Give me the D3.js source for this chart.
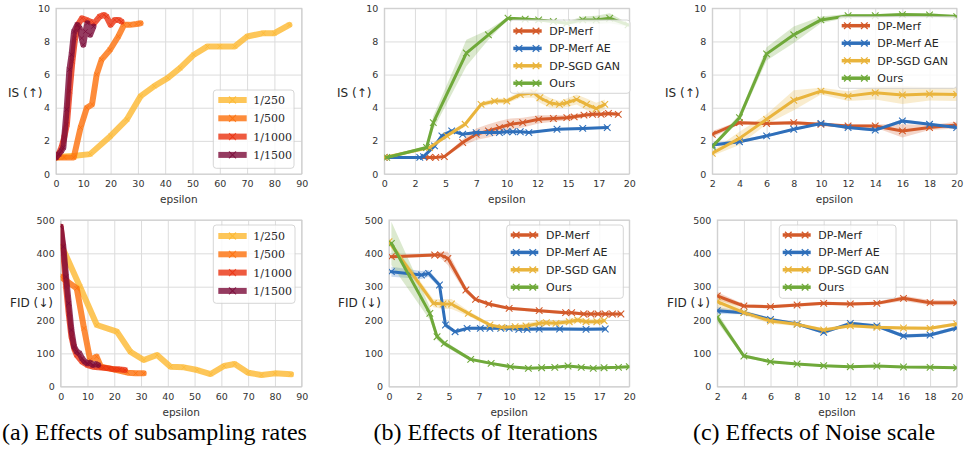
<!DOCTYPE html>
<html>
<head>
<meta charset="utf-8">
<script src="https://cdn.jsdelivr.net/npm/d3@7"></script>
<style>
  body { margin: 0; background: #fff; }
  svg { display: block; }
</style>
</head>
<body>
<svg id="fig" width="964" height="453"></svg>
<script>
// ---- data ----
var rateNames = ["1/250", "1/500", "1/1000", "1/1500"];
var methodNames = ["DP-Merf", "DP-Merf AE", "DP-SGD GAN", "Ours"];

// (a) subsampling rates, IS
var aIsX = [
  [0, 3, 7, 12.5, 20, 26, 31, 36, 41, 45.5, 50.5, 55.5, 60, 65.5, 70, 76, 80, 85.5],
  [0.5, 3, 6.5, 9, 11.3, 13.2, 14.9, 16.7, 19.8, 22.8, 24.9, 27, 29.5, 31],
  [0, 1, 2, 3, 4, 5, 6, 7, 8, 9.5, 11, 12.5, 14, 16, 17.5, 18.5, 20, 21.5, 23, 24],
  [0, 1, 2, 2.7, 3.9, 4.9, 5.7, 6.6, 7.8, 8.7, 9.4, 10, 10.8, 11.5, 12.5, 13.7]
];
var aIsY = [
  [1.0, 1.05, 1.1, 1.2, 2.3, 3.3, 4.7, 5.3, 5.8, 6.4, 7.2, 7.7, 7.7, 7.7, 8.3, 8.5, 8.5, 9.0],
  [1.0, 1.0, 1.0, 2.8, 4.0, 4.2, 6.0, 6.9, 7.5, 8.3, 9.0, 9.0, 9.05, 9.1],
  [1.0, 1.2, 1.6, 2.2, 3.0, 5.0, 6.8, 8.2, 9.0, 9.4, 9.3, 9.2, 9.1, 9.5, 9.6, 9.5, 9.0, 9.3, 9.3, 9.2],
  [1.0, 1.2, 1.4, 1.6, 3.9, 6.3, 7.2, 8.6, 9.0, 8.8, 8.2, 7.8, 8.6, 9.1, 8.4, 8.9]
];
// (a) subsampling rates, FID
var aFidX = [
  [0.5, 7.2, 13.5, 21, 26, 31, 36, 41, 46, 51, 56, 61, 65, 70, 75, 80, 86],
  [0, 6, 8.7, 11, 13.4, 15, 18, 21, 25, 28, 31],
  [0, 1, 2, 3, 4, 5, 6, 8, 10, 12, 14, 16, 18, 20, 22, 24],
  [0, 1, 2, 3, 4, 5, 6, 7, 8, 9, 10, 11, 12, 13, 14]
];
var aFidY = [
  [420, 300, 185, 165, 105, 80, 95, 60, 58, 50, 38, 62, 68, 42, 35, 40, 37],
  [330, 295, 175, 80, 90, 60, 55, 50, 42, 40, 40],
  [480, 400, 300, 220, 150, 115, 95, 75, 65, 60, 58, 57, 55, 52, 52, 50],
  [480, 420, 330, 250, 170, 120, 105, 100, 85, 75, 70, 72, 65, 68, 65]
];

// (b) iterations, IS
var bIsX = [
  [0, 3.7, 4.2, 4.9, 6.4, 7.5, 8.5, 9.4, 10.3, 11.3, 12.6, 13.8, 14.9, 15.5, 16.3, 17.0, 17.7, 18.3, 19.1],
  [0, 2.9, 3.2, 4.1, 4.7, 5.5, 6.4, 7.5, 8.6, 9.4, 10.0, 10.5, 11.1, 11.8, 14.1, 16.2, 18.2],
  [0, 3.7, 5.1, 6.6, 7.9, 9.0, 10.0, 11.1, 12.2, 12.7, 13.5, 14.3, 14.9, 15.7, 16.5, 17.3, 18.0],
  [0.2, 3.45, 4.0, 6.7, 8.5, 10.1, 11.5, 12.6, 13.8, 14.9, 16.2, 17.3, 18.4, 19.9]
];
var bIsY = [
  [1.0, 1.0, 1.0, 1.05, 1.9, 2.4, 2.6, 2.8, 3.0, 3.1, 3.3, 3.35, 3.4, 3.45, 3.55, 3.6, 3.6, 3.65, 3.6],
  [1.0, 1.0, 1.05, 1.7, 2.3, 2.6, 2.4, 2.5, 2.5, 2.5, 2.55, 2.55, 2.55, 2.5, 2.7, 2.75, 2.8],
  [1.0, 1.6, 2.3, 3.0, 4.2, 4.4, 4.4, 4.8, 4.9, 4.6, 4.3, 4.2, 4.3, 4.5, 4.2, 3.95, 4.2],
  [1.0, 1.6, 3.1, 7.3, 8.4, 9.4, 9.35, 9.3, 9.2, 9.1, 9.3, 9.3, 9.4, 9.0]
];
var bIsBand = [
  [0.02, 0.02, 0.03, 0.05, 0.2, 0.35, 0.4, 0.4, 0.35, 0.3, 0.25, 0.2, 0.15, 0.15, 0.12, 0.12, 0.12, 0.12, 0.1],
  [0.02, 0.05, 0.05, 0.15, 0.15, 0.1, 0.08, 0.06, 0.06, 0.06, 0.06, 0.06, 0.06, 0.06, 0.06, 0.06, 0.06],
  [0.02, 0.05, 0.1, 0.15, 0.15, 0.15, 0.15, 0.2, 0.3, 0.3, 0.3, 0.2, 0.25, 0.3, 0.35, 0.35, 0.3],
  [0.05, 0.1, 0.4, 0.8, 0.3, 0.08, 0.08, 0.08, 0.1, 0.1, 0.2, 0.25, 0.3, 0.1]
];
// (b) iterations, FID
var bFidX = [
  [0.2, 3.8, 4.3, 4.9, 6.4, 7.2, 8.3, 10, 12.5, 14.7, 15.2, 16.2, 16.8, 17.4, 18.0, 18.6, 19.3],
  [0.2, 2.7, 3.3, 4.2, 4.7, 5.5, 6.5, 7.6, 8.4, 9.3, 10, 10.8, 11.5, 12.5, 14.2, 16.4, 18.0],
  [0, 3.7, 4.5, 5.2, 6.6, 8.4, 9.4, 10.5, 11.4, 12.5, 13.1, 13.9, 15.0, 15.7, 16.4, 17.3, 17.9],
  [0.2, 3.4, 4.0, 4.6, 6.8, 8.5, 10.1, 11.6, 12.7, 13.8, 14.9, 16.0, 17.0, 17.9, 19.1, 20]
];
var bFidY = [
  [390, 395, 395, 385, 290, 262, 248, 235, 228, 222, 222, 218, 218, 218, 218, 218, 218],
  [345, 335, 340, 305, 185, 165, 175, 175, 175, 175, 175, 172, 172, 173, 173, 172, 173],
  [435, 250, 248, 248, 220, 185, 178, 180, 182, 190, 192, 190, 195, 200, 195, 195, 198],
  [430, 220, 150, 130, 82, 70, 60, 55, 57, 58, 62, 58, 55, 57, 58, 60]
];
var bFidBand = [
  [5, 5, 10, 20, 10, 5, 5, 5, 5, 5, 5, 5, 5, 5, 5, 5, 5],
  [15, 12, 10, 8, 8, 5, 5, 5, 5, 5, 5, 5, 5, 5, 5, 5, 5],
  [10, 12, 15, 15, 8, 5, 5, 5, 8, 8, 8, 8, 8, 8, 8, 8, 8],
  [65, 20, 10, 8, 5, 4, 3, 3, 3, 3, 3, 3, 3, 3, 3, 3]
];

// (c) noise scale
var noiseX = [2, 4, 6, 8, 10, 12, 14, 16, 18, 20];
var cIsY = [
  [2.4, 3.1, 3.05, 3.1, 3.0, 2.9, 2.9, 2.6, 2.8, 2.95],
  [1.75, 1.95, 2.3, 2.7, 3.05, 2.8, 2.65, 3.2, 3.0, 2.8],
  [1.25, 2.15, 3.3, 4.45, 5.0, 4.7, 4.9, 4.77, 4.83, 4.8],
  [1.65, 3.4, 7.25, 8.4, 9.3, 9.55, 9.55, 9.62, 9.6, 9.5]
];
var cIsBand = [
  [0.2, 0.1, 0.1, 0.1, 0.1, 0.1, 0.1, 0.4, 0.15, 0.2],
  [0.1, 0.1, 0.08, 0.08, 0.08, 0.08, 0.08, 0.1, 0.08, 0.08],
  [0.15, 0.4, 0.3, 0.6, 0.2, 0.3, 0.4, 0.55, 0.4, 0.4],
  [0.1, 0.2, 0.4, 0.5, 0.2, 0.1, 0.1, 0.1, 0.1, 0.1]
];
var cFidY = [
  [272, 242, 240, 245, 250, 248, 250, 265, 252, 252],
  [228, 222, 202, 188, 163, 190, 182, 152, 155, 176],
  [255, 222, 197, 187, 170, 183, 178, 176, 175, 188],
  [208, 92, 75, 68, 63, 60, 62, 59, 58, 57]
];
var cFidBand = [
  [12, 5, 5, 5, 5, 5, 5, 8, 8, 8],
  [10, 5, 5, 5, 5, 5, 5, 5, 5, 5],
  [25, 8, 8, 5, 5, 5, 5, 5, 5, 5],
  [15, 5, 3, 3, 3, 3, 3, 3, 3, 3]
];

// ---- styles ----
var rateColors = ["#fdb830", "#fd6f0a", "#ea310f", "#7a0a38"];
var methodColors = ["#d35a2a", "#2f6fba", "#e9b43c", "#6fa93a"];

var svg = d3.select("#fig");
var isTicks = d3.range(0, 11, 2);
var fidTicks = d3.range(0, 501, 100);

function crossPath(s) {
  return "M" + (-s) + "," + (-s) + "L" + s + "," + s + "M" + (-s) + "," + s + "L" + s + "," + (-s);
}

var clipCount = 0;
function drawPanel(p) {
  var g = svg.append("g");
  var x = d3.scaleLinear().domain(p.xDomain).range([p.left, p.right]);
  var y = d3.scaleLinear().domain(p.yDomain).range([p.bottom, p.top]);
  var w = p.right - p.left, h = p.bottom - p.top;

  g.append("rect").attr("x", p.left).attr("y", p.top).attr("width", w).attr("height", h)
    .attr("fill", "#fff");

  var xa = g.append("g").attr("transform", "translate(0," + p.bottom + ")")
    .call(d3.axisBottom(x).tickValues(p.xTicks).tickSize(-h).tickPadding(6.5)
      .tickFormat(p.xFormat || d3.format("d")));
  var ya = g.append("g").attr("transform", "translate(" + p.left + ",0)")
    .call(d3.axisLeft(y).tickValues(p.yTicks).tickSize(-w).tickPadding(6)
      .tickFormat(d3.format("d")));
  [xa, ya].forEach(function (a) {
    a.select(".domain").remove();
    a.selectAll(".tick line").attr("stroke", "#dcdcdc").attr("stroke-width", 1);
    a.selectAll(".tick text").attr("fill", "#333")
      .style("font-family", "DejaVu Sans").style("font-size", "9.5px");
  });

  g.append("rect").attr("x", p.left).attr("y", p.top).attr("width", w).attr("height", h)
    .attr("fill", "none").attr("stroke", "#cccccc").attr("stroke-width", 1);

  var cid = "clip" + (clipCount++);
  g.append("clipPath").attr("id", cid).append("rect")
    .attr("x", p.left).attr("y", p.top).attr("width", w).attr("height", h);
  var plot = g.append("g").attr("clip-path", "url(#" + cid + ")");

  var series = p.names.map(function (n, i) {
    return {
      name: n, color: p.colors[i],
      pts: p.xs[i].map(function (d, j) {
        return { x: d, y: p.ys[i][j], b: p.bands ? p.bands[i][j] : 0 };
      })
    };
  });

  if (p.bands) {
    series.forEach(function (s) {
      plot.append("path").datum(s.pts)
        .attr("d", d3.area().x(function (d) { return x(d.x); })
          .y0(function (d) { return y(d.y - d.b); })
          .y1(function (d) { return y(d.y + d.b); }))
        .attr("fill", s.color).attr("fill-opacity", 0.25);
    });
  }

  var line = d3.line().x(function (d) { return x(d.x); }).y(function (d) { return y(d.y); });
  series.forEach(function (s) {
    plot.append("path").datum(s.pts).attr("d", line)
      .attr("fill", "none").attr("stroke", s.color)
      .attr("stroke-width", p.lineWidth).attr("stroke-opacity", p.lineOpacity)
      .attr("stroke-linejoin", "round").attr("stroke-linecap", "round");
    plot.selectAll(null).data(s.pts).enter().append("path")
      .attr("transform", function (d) { return "translate(" + x(d.x) + "," + y(d.y) + ")"; })
      .attr("d", crossPath(p.markerSize))
      .attr("stroke", s.color).attr("stroke-width", p.markerWidth)
      .attr("stroke-opacity", p.lineOpacity).attr("fill", "none");
  });

  // legend
  var L = p.legend;
  var lg = g.append("g");
  lg.append("rect").attr("x", L.x).attr("y", L.y).attr("width", L.w).attr("height", L.h)
    .attr("rx", 3).attr("fill", "#fff").attr("fill-opacity", 0.8)
    .attr("stroke", "#cccccc").attr("stroke-width", 0.8);
  series.forEach(function (s, i) {
    var ry = L.row0 + i * L.step;
    lg.append("line").attr("x1", L.lx0).attr("x2", L.lx1).attr("y1", ry).attr("y2", ry)
      .attr("stroke", s.color).attr("stroke-width", p.legendLineWidth)
      .attr("stroke-opacity", p.lineOpacity);
    L.marks.forEach(function (f) {
      lg.append("path")
        .attr("transform", "translate(" + (L.lx0 + f * (L.lx1 - L.lx0)) + "," + ry + ")")
        .attr("d", crossPath(p.legendMarkerSize))
        .attr("stroke", s.color).attr("stroke-width", p.markerWidth + 0.2)
        .attr("stroke-opacity", p.lineOpacity).attr("fill", "none");
    });
    lg.append("text").attr("x", L.tx).attr("y", ry).attr("dy", "0.36em")
      .attr("fill", "#262626").style("font-family", p.legendFont).style("font-size", "11px")
      .text(s.name);
  });

  // axis labels
  g.append("text").attr("x", (p.left + p.right) / 2).attr("y", p.bottom + 29)
    .attr("text-anchor", "middle").attr("fill", "#333")
    .style("font-family", "DejaVu Sans").style("font-size", "10.5px").text("epsilon");
  g.append("text").attr("x", p.ylabelX).attr("y", p.ylabelY).attr("dy", "0.35em")
    .attr("fill", "#262626")
    .style("font-family", "DejaVu Sans").style("font-size", "12px").text(p.ylabel);
}

var rateStyle = {
  names: rateNames, colors: rateColors, lineWidth: 6, lineOpacity: 0.8,
  markerSize: 2.2, markerWidth: 0.9, legendLineWidth: 6, legendMarkerSize: 3.5,
  legendFont: "DejaVu Serif"
};
var methodStyle = {
  names: methodNames, colors: methodColors, lineWidth: 3, lineOpacity: 1,
  markerSize: 3.3, markerWidth: 1.1, legendLineWidth: 3.5, legendMarkerSize: 3.3,
  legendFont: "DejaVu Sans"
};
var iterTicks = d3.range(0, 20.1, 2.5);
var iterFormat = function (d) { return String(Math.floor(d)); };

var panels = [
  Object.assign({}, rateStyle, {
    left: 56, right: 301.7, top: 8.3, bottom: 174,
    xDomain: [0, 90], xTicks: d3.range(0, 91, 10), yDomain: [0, 10], yTicks: isTicks,
    xs: aIsX, ys: aIsY, ylabel: "IS (\u2191)", ylabelX: 8, ylabelY: 93,
    legend: { x: 213.3, y: 90, w: 80.7, h: 78.3, row0: 100, step: 18.3, lx0: 218.3, lx1: 246.7, tx: 253.3, marks: [0.5] }
  }),
  Object.assign({}, rateStyle, {
    left: 60.7, right: 301.7, top: 220, bottom: 386.7,
    xDomain: [0, 90], xTicks: d3.range(0, 91, 10), yDomain: [0, 500], yTicks: fidTicks,
    xs: aFidX, ys: aFidY, ylabel: "FID (\u2193)", ylabelX: 10, ylabelY: 303,
    legend: { x: 213.3, y: 225, w: 81.7, h: 78.3, row0: 236, step: 18.3, lx0: 218.3, lx1: 246.7, tx: 253.3, marks: [0.5] }
  }),
  Object.assign({}, methodStyle, {
    left: 384.3, right: 629.3, top: 8.3, bottom: 174,
    xDomain: [0, 20], xTicks: iterTicks, xFormat: iterFormat, yDomain: [0, 10], yTicks: isTicks,
    xs: bIsX, ys: bIsY, bands: bIsBand, ylabel: "IS (\u2191)", ylabelX: 337, ylabelY: 93,
    legend: { x: 510, y: 20, w: 120, h: 73.3, row0: 31, step: 17.4, lx0: 513.3, lx1: 541.7, tx: 549.3, marks: [0.2, 0.8] }
  }),
  Object.assign({}, methodStyle, {
    left: 389, right: 629.3, top: 220, bottom: 386.7,
    xDomain: [0, 20], xTicks: iterTicks, xFormat: iterFormat, yDomain: [0, 500], yTicks: fidTicks,
    xs: bFidX, ys: bFidY, bands: bFidBand, ylabel: "FID (\u2193)", ylabelX: 338, ylabelY: 303,
    legend: { x: 506.7, y: 225, w: 116.6, h: 73.3, row0: 235, step: 17.4, lx0: 510.7, lx1: 538.3, tx: 546, marks: [0.2, 0.8] }
  }),
  Object.assign({}, methodStyle, {
    left: 712.3, right: 956.7, top: 8.3, bottom: 174,
    xDomain: [2, 20], xTicks: d3.range(2, 21, 2), yDomain: [0, 10], yTicks: isTicks,
    xs: methodNames.map(function () { return noiseX; }), ys: cIsY, bands: cIsBand,
    ylabel: "IS (\u2191)", ylabelX: 665, ylabelY: 93,
    legend: { x: 838.3, y: 16.7, w: 118.4, h: 71.6, row0: 25.7, step: 17.5, lx0: 841.7, lx1: 870, tx: 877.3, marks: [0.2, 0.8] }
  }),
  Object.assign({}, methodStyle, {
    left: 717.3, right: 956.7, top: 220, bottom: 386.7,
    xDomain: [2, 20], xTicks: d3.range(2, 21, 2), yDomain: [0, 500], yTicks: fidTicks,
    xs: methodNames.map(function () { return noiseX; }), ys: cFidY, bands: cFidBand,
    ylabel: "FID (\u2193)", ylabelX: 667, ylabelY: 303,
    legend: { x: 779.3, y: 225, w: 116.7, h: 73.3, row0: 235, step: 17.4, lx0: 782.7, lx1: 810.7, tx: 818.3, marks: [0.2, 0.8] }
  })
];
panels.forEach(drawPanel);

// captions
var captions = [
  { text: "(a) Effects of subsampling rates", cx: 154.5 },
  { text: "(b) Effects of Iterations", cx: 485.5 },
  { text: "(c) Effects of Noise scale", cx: 814 }
];
svg.selectAll(".cap").data(captions).enter().append("text")
  .attr("x", function (d) { return d.cx; }).attr("y", 440)
  .attr("text-anchor", "middle").attr("fill", "#000")
  .style("font-family", "Liberation Serif").style("font-size", "24px")
  .text(function (d) { return d.text; });
</script>
</body>
</html>
